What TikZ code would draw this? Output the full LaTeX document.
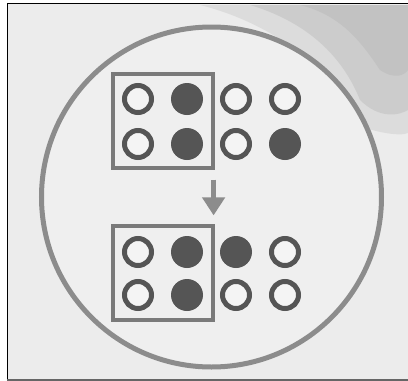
\documentclass[tikz,border=0pt]{standalone}
\usetikzlibrary{arrows.meta}
\definecolor{bg}{HTML}{ECECEC}
\definecolor{ringc}{HTML}{8C8C8C}
\definecolor{boxc}{HTML}{7A7A7A}
\definecolor{dotc}{HTML}{555555}
\definecolor{smudge}{HTML}{B0B0B0}
\tikzset{
  opendot/.style={circle,draw=dotc,line width=5pt,minimum size=27pt,inner sep=0pt,fill=bg!60!white},
  fulldot/.style={circle,fill=dotc,minimum size=32pt,inner sep=0pt},
  framebox/.style={draw=boxc,line width=3.2pt,minimum width=100pt,minimum height=94pt,inner sep=0pt},
  arr/.style={draw=ringc,line width=5pt,-{Triangle[width=22pt,length=18pt]}}
}
\begin{document}
\begin{tikzpicture}[x=1pt,y=-1pt]
\useasboundingbox (0,0) rectangle (408,381);
\fill[white] (0,0) rectangle (408,381);
\fill[bg] (7,4) rectangle (408,380);
% smudge top right
\begin{scope}
\clip (7,5) rectangle (408,380);
\fill[smudge,opacity=0.25] (200,5) .. controls (260,20) and (330,60) .. (345,120) .. controls (370,132) and (400,137) .. (408,133) -- (408,5) -- cycle;
\fill[smudge,opacity=0.35] (250,5) .. controls (300,20) and (340,50) .. (360,100) .. controls (380,120) and (400,115) .. (408,110) -- (408,5) -- cycle;
\fill[smudge,opacity=0.35] (300,5) .. controls (340,15) and (360,40) .. (380,70) .. controls (395,80) and (405,75) .. (408,70) -- (408,5) -- cycle;
\end{scope}
\draw[black,line width=1.8pt] (7,3.5) -- (408,3.5);
\draw[black,line width=1.8pt] (7.5,3) -- (7.5,381);
\draw[black!60,line width=1.5pt] (7,380) -- (408,380);
% big circle
\node[circle,draw=ringc,fill=bg!85!white,line width=5pt,minimum size=340pt,inner sep=0pt] (disc) at (211.5,197) {};
% boxes
\node[framebox] (b1) at (163,121) {};
\node[framebox] (b2) at (163,273) {};
% top dots
\node[opendot] (t11) at (138,99) {};
\node[fulldot] (t12) at (187,99) {};
\node[opendot] (t13) at (236,99) {};
\node[opendot] (t14) at (285,99) {};
\node[opendot] (t21) at (138,144) {};
\node[fulldot] (t22) at (187,144) {};
\node[opendot] (t23) at (236,144) {};
\node[fulldot] (t24) at (285,144) {};
% bottom dots
\node[opendot] (u11) at (138,252) {};
\node[fulldot] (u12) at (187,252) {};
\node[fulldot] (u13) at (236,252) {};
\node[opendot] (u14) at (285,252) {};
\node[opendot] (u21) at (138,295) {};
\node[fulldot] (u22) at (187,295) {};
\node[opendot] (u23) at (236,295) {};
\node[opendot] (u24) at (285,295) {};
% arrow
\coordinate (a1) at ([xshift=-1pt,yshift=-10pt]b1.south east);
\coordinate (a2) at ([xshift=-1pt,yshift=9pt]b2.north east);
\draw[arr] (a1) -- (a2);
\end{tikzpicture}
\end{document}
